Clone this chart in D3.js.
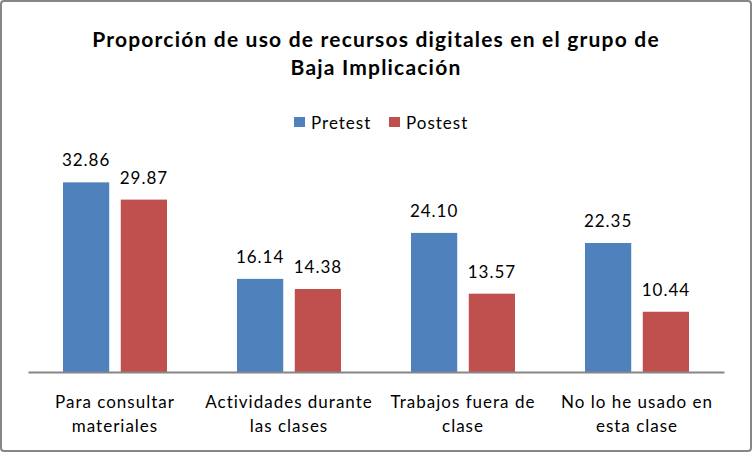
<!DOCTYPE html>
<html lang="es">
	<head>
		<meta charset="utf-8">
		<title>Proporción de uso de recursos digitales</title>
		<script src="https://cdn.jsdelivr.net/npm/d3@7"></script>
		<style>
			body { margin: 0; background: #fff; }
			text { font-family: Lato, "Open Sans", sans-serif; fill: #000; letter-spacing: 1px; }
		</style>
	</head>
	<body>
		<script>

			// data
			var categories = [
				["Para consultar", "materiales"],
				["Actividades durante", "las clases"],
				["Trabajos fuera de", "clase"],
				["No lo he usado en", "esta clase"]
			];
			var seriesNames = ["Pretest", "Postest"];
			var pretest = [32.86, 16.14, 24.10, 22.35];
			var postest = [29.87, 14.38, 13.57, 10.44];
			var colors = ["#4f81bd", "#c0504d"];

			var w = 752, h = 452;

			var svg = d3.select("body").append("svg")
				.attr("width", w)
				.attr("height", h);

			// outer frame
			svg.append("rect")
				.attr("x", 1).attr("y", 1)
				.attr("width", w - 2).attr("height", h - 2)
				.attr("rx", 3)
				.attr("fill", "#fff")
				.attr("stroke", "#868686")
				.attr("stroke-width", 2);

			// title
			var title = svg.append("text")
				.attr("text-anchor", "middle")
				.style("font-weight", "bold")
				.style("font-size", "21px")
				.style("letter-spacing", "1.2px");
			title.append("tspan").attr("x", 376).attr("y", 47)
				.text("Proporción de uso de recursos digitales en el grupo de");
			title.append("tspan").attr("x", 376).attr("y", 75)
				.text("Baja Implicación");

			// scales
			var x0 = d3.scaleBand()
				.domain(d3.range(categories.length))
				.range([28, 724]);

			var x1 = d3.scaleBand()
				.domain(seriesNames)
				.range([0, 104])
				.paddingInner(0.2);

			var y = d3.scaleLinear()
				.domain([0, 35])
				.range([372, 170]);

			var rows = categories.map(function(c, i) {
				return [pretest[i], postest[i]];
			});

			var groups = svg.selectAll("g.group")
				.data(rows)
				.enter()
				.append("g")
				.attr("class", "group")
				.attr("transform", function(d, i) {
					return "translate(" + (x0(i) + x0.bandwidth() / 2 - 52) + ",0)";
				});

			groups.selectAll("rect")
				.data(function(d) { return d; })
				.enter()
				.append("rect")
				.attr("x", function(d, j) { return x1(seriesNames[j]); })
				.attr("y", function(d) { return y(d); })
				.attr("width", x1.bandwidth())
				.attr("height", function(d) { return y(0) - y(d); })
				.attr("fill", function(d, j) { return colors[j]; });

			groups.selectAll("text.val")
				.data(function(d) { return d; })
				.enter()
				.append("text")
				.attr("class", "val")
				.attr("text-anchor", "middle")
				.style("font-size", "17px")
				.attr("x", function(d, j) { return x1(seriesNames[j]) + x1.bandwidth() / 2; })
				.attr("y", function(d) { return y(d) - 16; })
				.text(function(d) { return d.toFixed(2); });

			// x axis
			var xAxis = d3.axisBottom(x0).tickSize(0).tickFormat("");
			var axisG = svg.append("g")
				.attr("transform", "translate(0," + y(0) + ")")
				.call(xAxis);
			axisG.select(".domain").attr("stroke", "#868686").attr("stroke-width", 2);

			// category labels
			var catLabels = svg.selectAll("text.cat")
				.data(categories)
				.enter()
				.append("text")
				.attr("class", "cat")
				.attr("text-anchor", "middle")
				.style("font-size", "17px");
			catLabels.each(function(d, i) {
				var t = d3.select(this);
				d.forEach(function(line, k) {
					t.append("tspan")
						.attr("x", x0(i) + x0.bandwidth() / 2)
						.attr("y", 408 + k * 24)
						.text(line);
				});
			});

			// legend
			var legendX = [294, 389];
			var legend = svg.selectAll("g.legend")
				.data(seriesNames)
				.enter()
				.append("g")
				.attr("class", "legend")
				.attr("transform", function(d, i) { return "translate(" + legendX[i] + ",117)"; });
			legend.append("rect")
				.attr("width", 11).attr("height", 10)
				.attr("fill", function(d, i) { return colors[i]; });
			legend.append("text")
				.attr("x", 17).attr("y", 12)
				.style("font-size", "17px")
				.text(function(d) { return d; });

		</script>
	</body>
</html>
